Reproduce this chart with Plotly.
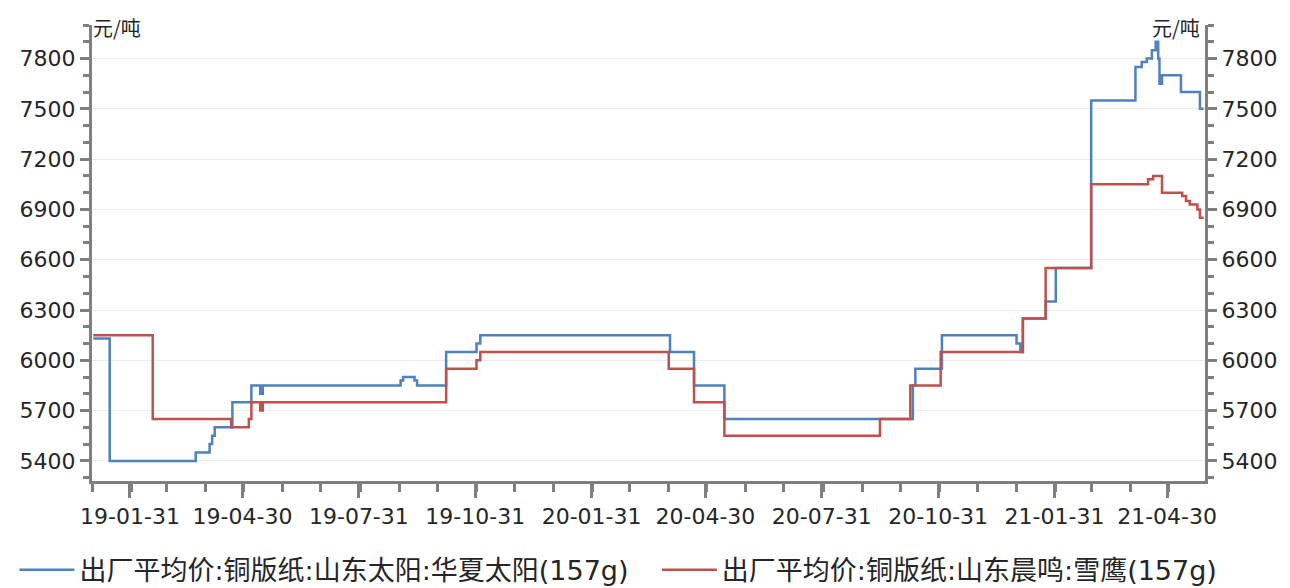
import plotly.graph_objects as go

blue_name = "出厂平均价:铜版纸:山东太阳:华夏太阳(157g)"
red_name = "出厂平均价:铜版纸:山东晨鸣:雪鹰(157g)"

blue_dates = ["2019-01-02", "2019-01-15", "2019-03-24", "2019-04-04", "2019-04-06", "2019-04-08",
              "2019-04-22", "2019-05-07", "2019-05-14", "2019-05-16", "2019-09-02", "2019-09-04",
              "2019-09-13", "2019-09-15", "2019-10-08", "2019-11-01", "2019-11-04", "2020-04-02",
              "2020-04-21", "2020-05-15", "2020-10-11", "2020-10-13", "2020-11-03", "2021-01-01",
              "2021-01-04", "2021-01-06", "2021-01-24", "2021-02-01", "2021-03-01", "2021-04-05",
              "2021-04-10", "2021-04-14", "2021-04-18", "2021-04-21", "2021-04-23", "2021-04-24",
              "2021-04-26", "2021-05-11", "2021-05-26", "2021-05-29"]
blue_values = [6130, 5400, 5450, 5500, 5550, 5600,
               5750, 5850, 5800, 5850, 5880, 5900,
               5880, 5850, 6050, 6100, 6150, 6050,
               5850, 5650, 5850, 5950, 6150, 6100,
               6050, 6250, 6350, 6550, 7550, 7750,
               7780, 7800, 7850, 7900, 7800, 7650,
               7700, 7600, 7500, 7500]

red_dates = ["2019-01-02", "2019-02-18", "2019-04-21", "2019-05-05", "2019-05-07", "2019-05-14",
             "2019-05-16", "2019-10-08", "2019-11-01", "2019-11-04", "2020-04-01", "2020-04-21",
             "2020-05-15", "2020-09-15", "2020-10-09", "2020-11-02", "2021-01-06", "2021-01-24",
             "2021-03-01", "2021-04-15", "2021-04-19", "2021-04-26", "2021-05-12", "2021-05-15",
             "2021-05-18", "2021-05-24", "2021-05-26", "2021-05-29"]
red_values = [6150, 5650, 5600, 5650, 5750, 5700,
              5750, 5950, 6000, 6050, 5950, 5750,
              5550, 5650, 5850, 6050, 6250, 6550,
              7050, 7080, 7100, 7000, 6980, 6950,
              6930, 6900, 6850, 6850]

y_ticks = [5400, 5700, 6000, 6300, 6600, 6900, 7200, 7500, 7800]
x_ticks = ["2019-01-31", "2019-04-30", "2019-07-31", "2019-10-31", "2020-01-31",
           "2020-04-30", "2020-07-31", "2020-10-31", "2021-01-31", "2021-04-30"]
x_labels = ["19-01-31", "19-04-30", "19-07-31", "19-10-31", "20-01-31",
            "20-04-30", "20-07-31", "20-10-31", "21-01-31", "21-04-30"]
unit = "元/吨"

BLUE = "#4f81bd"
RED = "#c0504d"
AXIS = "#7f7f7f"
TXT = "#262626"
FONT = "DejaVu Sans, Noto Sans CJK SC"
CJK = "Noto Sans CJK SC"

fig = go.Figure()
fig.add_trace(go.Scatter(x=blue_dates, y=blue_values, name=blue_name, mode="lines",
                         legend="legend",
                         line=dict(color=BLUE, width=2.5, shape="hv")))
fig.add_trace(go.Scatter(x=red_dates, y=red_values, name=red_name, mode="lines",
                         legend="legend2",
                         line=dict(color=RED, width=2.5, shape="hv")))
fig.add_trace(go.Scatter(x=red_dates, y=red_values, yaxis="y2", mode="lines", showlegend=False,
                         hoverinfo="skip", line=dict(color="rgba(0,0,0,0)", width=0, shape="hv")))

yr = [5280, 8000]
yax = dict(range=yr, tickvals=y_ticks, showline=True, linecolor=AXIS, linewidth=3,
           ticks="outside", ticklen=9, tickwidth=3, tickcolor=AXIS,
           tickfont=dict(size=22, color=TXT, family=FONT),
           minor=dict(dtick=100, tick0=0, ticks="outside", ticklen=6, tickwidth=2.5,
                      tickcolor=AXIS, showgrid=False),
           zeroline=False)

leg = dict(orientation="h", xref="container", yref="container", xanchor="left",
           y=0.044, yanchor="middle", font=dict(size=27, color=TXT, family=FONT),
           itemwidth=55, bgcolor="rgba(0,0,0,0)")

fig.update_layout(
    width=1290, height=588,
    margin=dict(l=81, r=93, t=17, b=115),
    paper_bgcolor="white", plot_bgcolor="white",
    font=dict(family=FONT, color=TXT),
    xaxis=dict(type="date", range=["2019-01-01", "2021-05-30"], tickvals=x_ticks, ticktext=x_labels,
               showline=True, linecolor=AXIS, linewidth=3, ticks="outside", ticklen=14,
               tickwidth=3, tickcolor=AXIS, showgrid=False, zeroline=False,
               tickfont=dict(size=22, color=TXT, family=FONT),
               minor=dict(tick0="2019-01-01", dtick="M1", ticks="outside", ticklen=8,
                          tickwidth=2.5, tickcolor=AXIS, showgrid=False)),
    yaxis=dict(**yax, showgrid=True, gridcolor="#ececec", gridwidth=1),
    yaxis2=dict(**yax, overlaying="y", side="right", showgrid=False),
    legend=dict(**leg, x=0.005),
    legend2=dict(**leg, x=0.503),
    showlegend=True,
)

fig.add_annotation(text=unit, xref="paper", yref="paper", x=0, y=1.0, xanchor="left",
                   yanchor="bottom", yshift=-19, xshift=-1, showarrow=False,
                   font=dict(size=20, color=TXT, family=CJK))
fig.add_annotation(text=unit, xref="paper", yref="paper", x=1, y=1.0, xanchor="right",
                   yanchor="bottom", yshift=-19, xshift=-3, showarrow=False,
                   font=dict(size=20, color=TXT, family=CJK))

fig.write_html("out.html")
